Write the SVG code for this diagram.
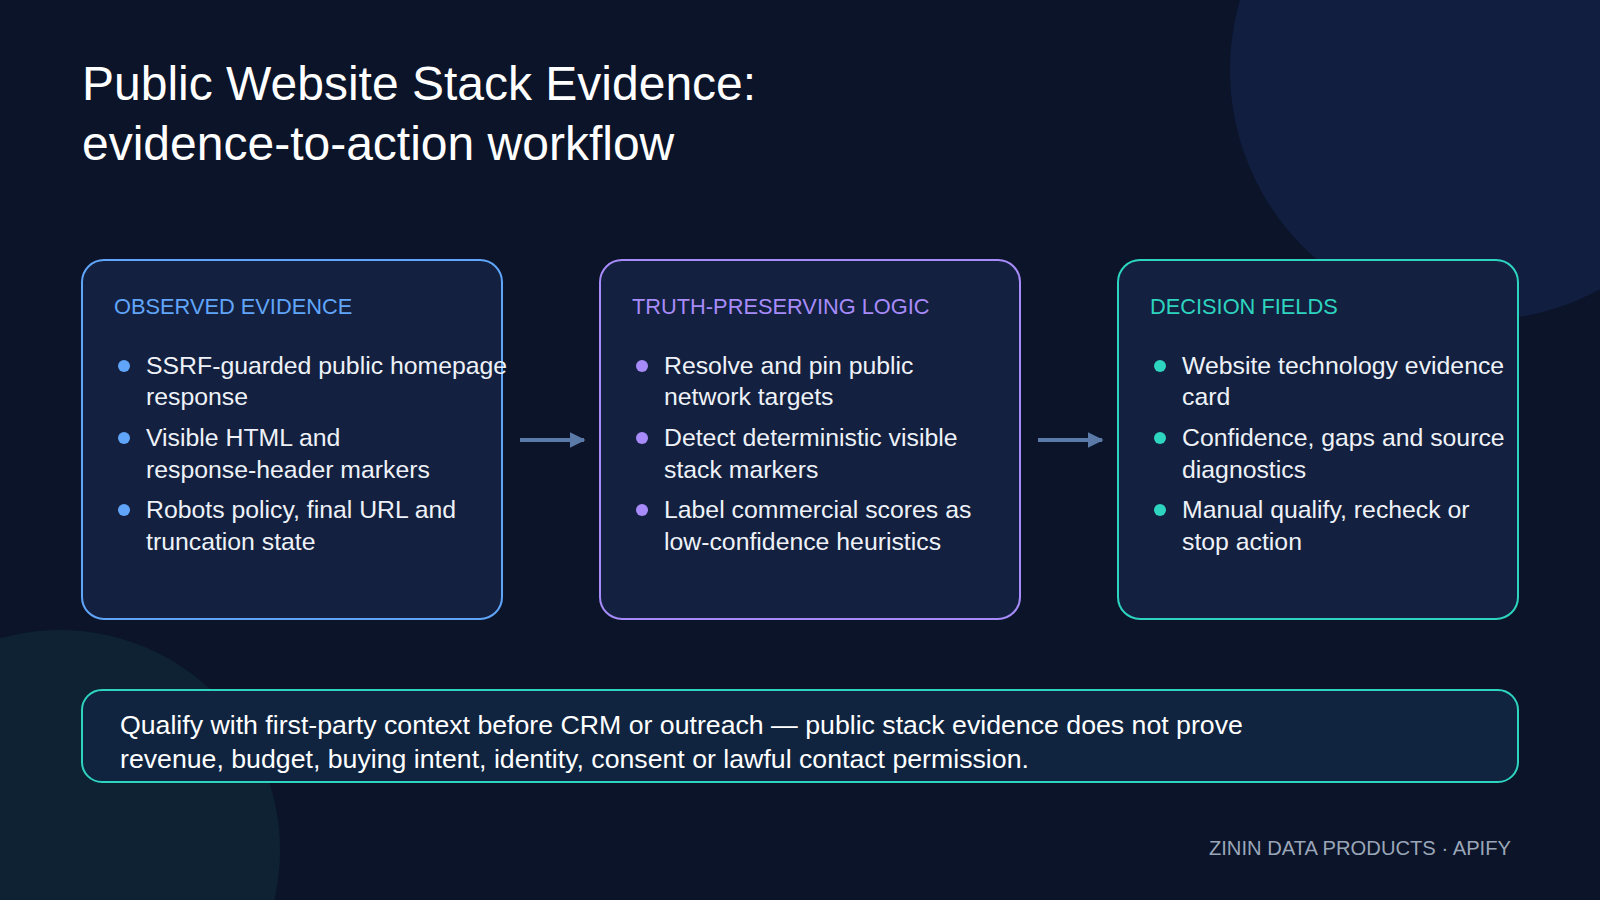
<svg xmlns="http://www.w3.org/2000/svg" width="1600" height="900" viewBox="0 0 1600 900">
<defs>
<style>
text{font-family:"Liberation Sans",Arial,sans-serif}
.t{fill:#ffffff;font-size:48px}
.h{font-size:21.8px}
.b{fill:#eef2f8;font-size:24.8px}
.box{fill:#13203f;stroke-width:2}
</style>
<marker id="ah" viewBox="0 0 10 10" refX="9" refY="5" markerWidth="4" markerHeight="4" orient="auto"><path d="M0,0L10,5L0,10z" fill="#5b7aa8"/></marker>
</defs>
<rect width="1600" height="900" fill="#0b1429"/>
<circle cx="1480" cy="70" r="250" fill="#111e40"/>
<circle cx="60" cy="850" r="220" fill="#0f2536" opacity="0.8"/>
<text class="t" x="82" y="100">Public Website Stack Evidence:</text>
<text class="t" x="82" y="160">evidence-to-action workflow</text>
<g id="observed">
<rect class="box" x="82" y="260" width="420" height="359" rx="22" stroke="#60a5fa"/>
<text class="h" x="114" y="314" fill="#60a5fa">OBSERVED EVIDENCE</text>
<g fill="#60a5fa"><circle cx="124" cy="366" r="6"/><circle cx="124" cy="438" r="6"/><circle cx="124" cy="510" r="6"/></g>
<text class="b" x="146" y="374">SSRF-guarded public homepage</text><text class="b" x="146" y="405">response</text>
<text class="b" x="146" y="446">Visible HTML and</text><text class="b" x="146" y="478">response-header markers</text>
<text class="b" x="146" y="518">Robots policy, final URL and</text><text class="b" x="146" y="550">truncation state</text>
</g>
<g id="logic">
<rect class="box" x="600" y="260" width="420" height="359" rx="22" stroke="#a78bfa"/>
<text class="h" x="632" y="314" fill="#a78bfa">TRUTH-PRESERVING LOGIC</text>
<g fill="#a78bfa"><circle cx="642" cy="366" r="6"/><circle cx="642" cy="438" r="6"/><circle cx="642" cy="510" r="6"/></g>
<text class="b" x="664" y="374">Resolve and pin public</text><text class="b" x="664" y="405">network targets</text>
<text class="b" x="664" y="446">Detect deterministic visible</text><text class="b" x="664" y="478">stack markers</text>
<text class="b" x="664" y="518">Label commercial scores as</text><text class="b" x="664" y="550">low-confidence heuristics</text>
</g>
<g id="decision">
<rect class="box" x="1118" y="260" width="400" height="359" rx="22" stroke="#2dd4bf"/>
<text class="h" x="1150" y="314" fill="#2dd4bf">DECISION FIELDS</text>
<g fill="#2dd4bf"><circle cx="1160" cy="366" r="6"/><circle cx="1160" cy="438" r="6"/><circle cx="1160" cy="510" r="6"/></g>
<text class="b" x="1182" y="374">Website technology evidence</text><text class="b" x="1182" y="405">card</text>
<text class="b" x="1182" y="446">Confidence, gaps and source</text><text class="b" x="1182" y="478">diagnostics</text>
<text class="b" x="1182" y="518">Manual qualify, recheck or</text><text class="b" x="1182" y="550">stop action</text>
</g>
<g id="connectors" stroke="#5b7aa8" stroke-width="4" fill="none">
<line x1="520" y1="440" x2="584" y2="440" marker-end="url(#ah)"/>
<line x1="1038" y1="440" x2="1102" y2="440" marker-end="url(#ah)"/>
</g>
<g id="note">
<rect x="82" y="690" width="1436" height="92" rx="20" fill="#102440" stroke="#2dd4bf" stroke-width="2"/>
<text x="120" y="734" fill="#ffffff" font-size="26.7">Qualify with first-party context before CRM or outreach — public stack evidence does not prove</text>
<text x="120" y="768" fill="#ffffff" font-size="26.7">revenue, budget, buying intent, identity, consent or lawful contact permission.</text>
</g>
<text x="1511" y="855" fill="#9aa6b8" font-size="20.2" text-anchor="end">ZININ DATA PRODUCTS · APIFY</text>
</svg>
